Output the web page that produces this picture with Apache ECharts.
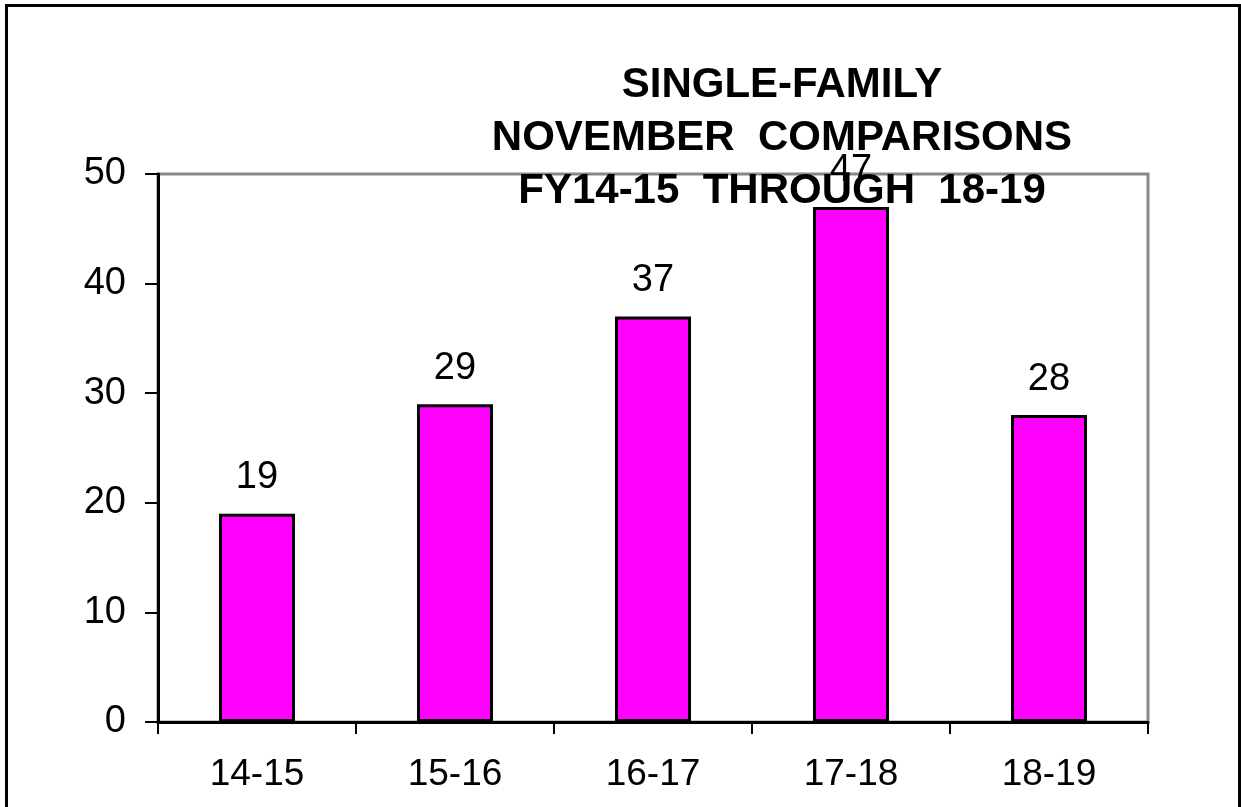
<!DOCTYPE html>
<html>
<head>
<meta charset="utf-8">
<script src="https://cdn.jsdelivr.net/npm/echarts@6/dist/echarts.min.js"></script>
<style>
  html, body { margin: 0; padding: 0; background: #fff; overflow: hidden; }
  #frame { position: absolute; left: 5px; top: 4px; width: 1236px; height: 820px; border: 3px solid #000; box-sizing: border-box; }
  #main { position: absolute; left: 0; top: 0; width: 1241px; height: 807px; }
</style>
</head>
<body>
<div id="frame"></div>
<div id="main"></div>
<script>
// 数据
const categories = ['14-15', '15-16', '16-17', '17-18', '18-19']
const values = [19, 29, 37, 47, 28]
const titleLines = ['SINGLE-FAMILY', 'NOVEMBER  COMPARISONS', 'FY14-15  THROUGH  18-19']

var myChart = echarts.init(document.getElementById('main'))
var font = '"Liberation Sans", Arial, sans-serif'
var option = {
  animation: false,
  title: {
    text: titleLines.join('\n'),
    left: 777,
    top: 54,
    textAlign: 'center',
    textStyle: {
      fontFamily: font,
      fontWeight: 'bold',
      fontSize: 42,
      lineHeight: 53,
      color: '#000'
    }
  },
  grid: {
    left: 158,
    right: 93,
    top: 174,
    bottom: 85,
    show: true,
    borderColor: '#888',
    borderWidth: 3
  },
  xAxis: {
    type: 'category',
    data: categories,
    axisLine: { lineStyle: { color: '#000', width: 3 } },
    axisTick: { show: true, length: 12, lineStyle: { color: '#000', width: 2 } },
    axisLabel: { color: '#000', fontFamily: font, fontSize: 37, margin: 34 }
  },
  yAxis: {
    type: 'value',
    min: 0,
    max: 50,
    interval: 10,
    axisLine: { show: true, lineStyle: { color: '#000', width: 3 } },
    axisTick: { show: true, length: 13, lineStyle: { color: '#000', width: 2 } },
    splitLine: { show: false },
    axisLabel: { color: '#000', fontFamily: font, fontSize: 38, margin: 32 }
  },
  series: [
    {
      type: 'bar',
      data: values,
      barWidth: 76,
      itemStyle: { color: '#ff00ff', borderColor: '#000', borderWidth: 3 },
      label: {
        show: true,
        position: 'top',
        distance: 17,
        color: '#000',
        fontFamily: font,
        fontSize: 38
      }
    }
  ]
}
myChart.setOption(option)
</script>
</body>
</html>
